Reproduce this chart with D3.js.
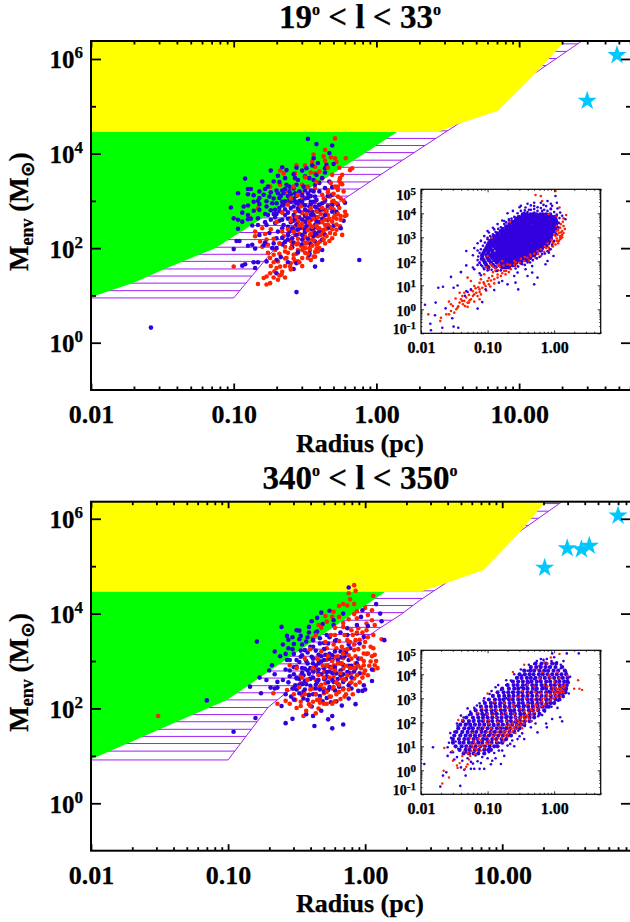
<!DOCTYPE html>
<html>
<head>
<meta charset="utf-8">
<script src="https://cdn.jsdelivr.net/npm/d3@7"></script>
<style>
  html, body { margin: 0; padding: 0; background: #fff; }
  svg { display: block; font-family: "Liberation Serif", serif; font-weight: bold; }
  svg text { stroke: #000; stroke-width: .25; }
</style>
</head>
<body>
<svg id="chart" width="630" height="922"></svg>
<script>
// scatter points are [log10 radius, log10 mass]
const topMainRed = [[-.29,4.32],[-.44,3.98],[-.37,3.94],[-.36,4.08],[-.29,3.90],[-.215,3.90],[-.28,3.82],[-.45,3.83],[-.43,3.72],[-.50,3.75],[-.56,3.75],[-.675,3.64],[-.57,3.58],[-.65,3.58],[-.43,3.58],[-.38,3.48],[-.31,3.55],[-.255,3.48],[-.17,3.69],[-.185,3.65],[-.25,3.37],[-.27,3.30],[-.745,3.30],[-.675,3.34],[-.52,3.34],[-.48,3.30],[-.43,3.27],[-.34,3.23],[-.27,3.23],[-.23,3.20],[-.64,3.20],[-.605,3.13],[-.52,3.16],[-.48,3.16],[-.38,3.13],[-.325,3.09],[-.27,3.09],[-.83,2.84],[-.57,2.98],[-.52,3.06],[-.43,2.98],[-.36,3.02],[-.31,2.98],[-.22,2.77],[-.21,2.70],[-.25,2.68],[-.22,2.68],[-.885,2.63],[-.57,2.77],[-.52,2.74],[-.45,2.70],[-.41,2.77],[-.36,2.81],[-.29,2.70],[-.605,2.63],[-.55,2.56],[-.49,2.60],[-.43,2.63],[-.37,2.63],[-.31,2.56],[-.255,2.46],[-.85,2.35],[-.57,2.46],[-.52,2.42],[-.465,2.49],[-.41,2.42],[-.36,2.49],[-.28,2.39],[-.85,2.25],[-.77,2.18],[-.815,2.14],[-.76,2.07],[-.57,2.28],[-.51,2.21],[-.465,2.28],[-.41,2.25],[-.325,2.32],[-.24,2.28],[-.65,2.25],[-.31,2.21],[-.80,2.03],[-.64,2.03],[-.59,2.07],[-.55,2.10],[-.49,2.10],[-.42,2.07],[-.36,2.10],[-.71,1.96],[-.72,1.86],[-.64,1.93],[-.58,1.86],[-.52,1.96],[-.465,1.96],[-.41,1.93],[-.745,1.79],[-.69,1.72],[-.63,1.79],[-.57,1.72],[-.52,1.79],[-.48,1.79],[-.675,1.61],[-.605,1.61],[-.745,1.47],[-.77,1.40],[-.665,1.44],[-.715,1.51],[-.79,1.37],[-.69,1.33],[-.745,1.26],[-.77,1.23],[-.83,1.24],[-1.00,1.61],[-.43,1.82],[-.55,1.72],[-.50,2.35],[-.45,2.18],[-.55,1.96],[-.395,2.14],[-.54,2.30],[-.50,2.25],[-.44,2.35],[-.38,2.38],[-.33,2.45],[-.47,2.12],[-.53,2.05],[-.47,2.00],[-.42,1.98],[-.60,2.15],[-.56,1.88],[-.50,1.90],[-.46,2.60],[-.40,2.55],[-.34,2.70],[-.28,2.62],[-.40,2.90],[-.34,2.90],[-.30,2.82],[-.46,1.75],[-.60,1.68],[-.64,1.78],[-.68,1.88],[-.37,2.32]];
// red points that lie over the blue ones in the picture
const topMainRedOver = [[-.62,2.40],[-.60,2.58],[-.58,2.35],[-.56,2.66],[-.55,2.20],[-.54,2.48],[-.53,2.88],[-.52,2.52],[-.51,2.02],[-.50,2.12],[-.49,2.72],[-.48,2.38],[-.47,2.56],[-.46,2.30],[-.46,2.84],[-.45,2.05],[-.45,2.45],[-.44,2.16],[-.44,2.62],[-.43,1.92],[-.42,2.48],[-.42,2.78],[-.41,2.10],[-.41,2.65],[-.40,2.00],[-.40,2.42],[-.39,2.28],[-.39,2.72],[-.38,2.55],[-.38,2.85],[-.37,2.18],[-.37,3.05],[-.36,2.40],[-.36,2.60],[-.35,2.25],[-.35,2.78],[-.34,2.50],[-.34,3.18],[-.33,2.15],[-.33,2.62],[-.32,2.85],[-.32,3.38],[-.31,2.40],[-.30,2.65],[-.30,3.00],[-.29,2.30],[-.29,3.30],[-.28,2.50],[-.28,2.95],[-.27,2.72],[-.26,2.85],[-.26,3.42],[-.25,2.60],[-.25,3.05],[-.24,3.55],[-.23,3.00],[-.68,2.10],[-.66,2.35],[-.64,1.62],[-.62,1.90],[-.60,2.00],[-.58,1.78],[-.56,2.08],[-.54,1.70],[-.52,1.62],[-.50,2.00],[-.48,1.88],[-.44,1.82],[-.60,1.55],[-.66,1.50],[-.72,1.70],[-.70,1.58],[-.74,1.62],[-.76,1.90],[-.68,1.42],[-.64,1.38],[-.72,1.38],[-.58,3.30],[-.55,3.12],[-.50,3.50],[-.46,3.60],[-.42,3.40],[-.40,3.62],[-.36,3.85],[-.34,3.70],[-.32,3.92],[-.26,3.70],[-.24,3.35],[-.30,3.15],[-.62,2.92],[-.60,3.05],[-.66,2.75],[-.70,2.55],[-.74,2.40],[-.78,2.30],[-.72,2.20],[-.80,2.42]];
const topMainBlue = [[-.48,4.31],[-.42,4.20],[-.31,4.17],[-.33,4.01],[-.44,3.90],[-.41,3.80],[-.30,3.78],[-.35,3.76],[-.36,3.69],[-.66,3.71],[-.74,3.64],[-.63,3.65],[-.49,3.69],[-.52,3.64],[-.69,3.53],[-.92,3.47],[-.80,3.41],[-.72,3.41],[-.57,3.48],[-.55,3.44],[-.47,3.48],[-.44,3.44],[-.38,3.48],[-.33,3.41],[-.88,3.25],[-.90,3.25],[-.97,3.16],[-.90,3.14],[-.78,3.25],[-.76,3.30],[-.63,3.34],[-.61,3.30],[-.56,3.34],[-.51,3.30],[-.43,3.34],[-.36,3.27],[-.31,3.29],[-.79,3.13],[-.82,3.06],[-.83,3.00],[-.75,3.09],[-.69,3.16],[-.65,3.16],[-.61,3.20],[-.57,3.16],[-.48,3.06],[-.43,3.09],[-.31,3.13],[-.22,2.96],[-.77,2.99],[-.73,2.95],[-.68,3.06],[-.64,2.99],[-.61,3.02],[-.57,2.99],[-.51,2.91],[-.47,2.88],[-.43,2.88],[-.38,2.95],[-.31,2.91],[-.27,2.91],[-1.02,2.86],[-.93,2.88],[-.86,2.79],[-.82,2.81],[-.77,2.88],[-.71,2.81],[-.65,2.91],[-.55,2.84],[-.50,2.81],[-.45,2.77],[-.31,2.77],[-.28,2.77],[-1.00,2.63],[-.97,2.60],[-.94,2.56],[-.90,2.70],[-.90,2.61],[-.83,2.63],[-.76,2.70],[-.71,2.65],[-.64,2.70],[-.57,2.63],[-.52,2.60],[-.48,2.63],[-.42,2.56],[-.34,2.60],[-.23,2.58],[-.97,2.41],[-.87,2.48],[-.83,2.49],[-.77,2.49],[-.71,2.53],[-.65,2.49],[-.59,2.42],[-.55,2.39],[-.49,2.46],[-.43,2.49],[-.34,2.42],[-.30,2.47],[-.82,2.28],[-.75,2.32],[-.69,2.35],[-.61,2.35],[-.52,2.28],[-.43,2.32],[-.36,2.28],[-.25,2.42],[-.98,2.15],[-.96,2.15],[-.70,2.21],[-.64,2.13],[-.59,2.21],[-.43,2.14],[-.38,2.18],[-.90,2.05],[-.87,2.07],[-.79,2.06],[-.73,2.00],[-.70,2.00],[-.59,2.02],[-.55,1.91],[-.47,1.89],[-.38,1.96],[-1.00,1.98],[-.85,1.99],[-.70,1.75],[-.77,1.72],[-.67,1.81],[-.47,1.86],[-.38,1.75],[-.86,1.70],[-.83,1.70],[-.92,1.66],[-.94,1.63],[-.85,1.58],[-.62,1.70],[-.56,1.68],[-.43,1.61],[-.58,1.56],[-.12,1.75],[-.56,1.07],[-.70,1.47],[-.62,3.10],[-.58,3.05],[-.54,3.00],[-.50,3.05],[-.46,2.98],[-.42,3.02],[-.60,2.85],[-.54,2.78],[-.44,2.70],[-.40,2.80],[-.36,2.70],[-.62,2.75],[-.58,2.70],[-.68,2.85],[-.72,2.72],[-.50,2.68],[-.46,2.60],[-.60,2.55],[-.56,2.50],[-.66,2.60],[-.44,2.42],[-.40,2.35],[-.50,2.40],[-.62,2.28],[-.56,2.28],[-.48,2.20],[-.66,2.22],[-.58,2.12],[-.52,2.08],[-.44,2.25],[-.66,3.22],[-.72,3.05],[-.40,3.20],[-.46,3.22],[-.34,3.10],[-.66,2.98],[-1.58,.32],
[-.74,3.18],[-.70,3.22],[-.67,3.10],[-.64,3.25],[-.60,3.14],[-.58,3.26],[-.56,3.10],[-.54,3.20],[-.52,3.12],[-.50,3.22],[-.48,3.15],[-.46,3.10],[-.44,3.20],[-.70,2.95],[-.68,2.78],[-.66,2.90],[-.64,2.82],[-.62,2.95],[-.60,2.98],[-.58,2.88],[-.56,2.95],[-.54,2.90],[-.52,2.98],[-.50,2.90],[-.48,2.78],[-.46,2.92],[-.44,2.98],[-.42,2.85],[-.40,2.92],[-.38,2.82],[-.36,3.00],[-.34,2.88],[-.82,2.93],[-.78,2.72],[-.74,2.80],[-.74,2.60],[-.70,2.72],[-.68,2.58],[-.62,2.62],[-.58,2.58],[-.54,2.65],[-.50,2.55],[-.46,2.70],[-.42,2.65],[-.38,2.62],[-.66,2.42],[-.62,2.45],[-.58,2.38],[-.54,2.42],[-.50,2.34],[-.46,2.40],[-.78,2.12],[-.72,2.10],[-.66,2.08],[-.62,2.18],[-.52,2.18],[-.46,2.08],[-.42,2.30],[-.40,2.55],[-.86,3.12],[-.82,3.20],[-.86,2.98],[-.90,2.90],[-.94,2.75],[-.88,2.62],[-.78,2.55],[-.42,3.55],[-.50,3.52],[-.58,3.56],[-.64,3.48],[-.68,3.40],[-.36,3.60],[-.40,3.38],[-.56,3.70],[-.45,3.75]];

const bottomMainRed = [[-.08,4.60],[-.07,4.48],[-.12,4.43],[.06,4.37],[-.11,4.30],[-.08,4.20],[-.13,4.17],[-.19,4.16],[-.23,4.04],[-.28,3.83],[-.34,3.76],[-.24,3.93],[-.19,3.93],[-.12,3.88],[-.08,3.99],[0,4.12],[.05,4.07],[.02,3.97],[.05,3.86],[.07,3.76],[.01,3.79],[-.06,3.90],[-.16,3.72],[-.10,3.65],[-.05,3.69],[.01,3.65],[.06,3.55],[.12,3.46],[-.38,3.48],[-.22,3.55],[-.13,3.44],[-.07,3.44],[-.01,3.30],[.06,3.27],[.07,3.13],[.02,3.16],[.04,2.99],[-.28,3.27],[-.21,3.27],[-.15,3.23],[-.08,3.23],[-.01,3.16],[-.55,2.91],[-.34,3.02],[-.28,3.02],[-.22,3.09],[-.16,3.06],[-.07,2.95],[-.01,2.91],[.06,2.81],[.07,2.91],[-.36,2.81],[-.30,2.77],[-.23,2.91],[-.16,2.84],[-.10,2.74],[-.01,2.74],[-.47,2.70],[-.36,2.60],[-.29,2.53],[-.23,2.67],[-.17,2.63],[-.08,2.63],[-.38,2.42],[-.30,2.42],[-.24,2.42],[-.19,2.35],[-.11,2.53],[-.67,2.32],[-.57,2.39],[-.47,2.53],[-.33,2.46],[-.41,2.29],[-.46,2.28],[-.51,2.18],[-.47,2.14],[-.30,2.32],[-.64,2.10],[-.58,2.16],[-.41,2.09],[-.47,2.05],[-.38,2.14],[-.50,2.01],[-.34,2.00],[-.45,1.84],[-.35,2.18],[-.17,2.70],[-1.51,1.84]];
const bottomMainRedOver = [[-.42,2.60],[-.40,2.40],[-.38,2.85],[-.36,2.30],[-.35,3.05],[-.34,2.70],[-.33,2.20],[-.32,3.20],[-.32,2.50],[-.31,2.90],[-.30,2.10],[-.30,2.65],[-.29,3.40],[-.28,2.35],[-.28,2.90],[-.27,3.10],[-.26,2.25],[-.26,2.65],[-.25,3.55],[-.25,2.85],[-.24,2.10],[-.24,3.00],[-.23,2.45],[-.23,3.35],[-.22,2.80],[-.22,3.70],[-.21,2.30],[-.21,2.55],[-.20,3.10],[-.20,2.95],[-.19,2.50],[-.19,3.42],[-.18,2.20],[-.18,2.75],[-.17,3.30],[-.17,2.95],[-.16,2.40],[-.16,3.15],[-.15,2.60],[-.15,3.55],[-.14,2.30],[-.14,2.90],[-.13,3.25],[-.13,2.70],[-.12,2.40],[-.12,3.12],[-.11,2.85],[-.11,3.40],[-.10,2.55],[-.10,3.05],[-.09,3.55],[-.09,2.30],[-.08,2.85],[-.08,3.35],[-.07,2.50],[-.07,3.10],[-.06,2.70],[-.06,3.60],[-.05,2.90],[-.05,3.25],[-.04,2.55],[-.04,3.45],[-.03,2.85],[-.03,3.05],[-.02,2.65],[-.02,3.60],[-.01,3.00],[0,2.80],[0,3.40],[.01,3.15],[.02,2.70],[.02,3.50],[.03,2.90],[.04,3.30],[.05,3.10],[.08,3.00],[.09,2.85],[-.44,2.30],[-.48,2.45],[-.52,2.30],[-.55,2.10],[-.43,1.95],[-.40,2.05],[-.36,1.90],[-.33,2.12],[-.28,2.10],[-.25,2.25],[-.22,2.15],[-.15,2.25],[-.46,2.65],[-.50,2.85],[-.44,3.05],[-.40,3.25],[-.36,3.55],[-.32,3.70],[-.16,3.80],[-.06,4.05],[-.16,4.20],[-.29,3.95]];
const bottomMainBlue = [[-.12,4.55],[-.26,4.06],[-.32,4.02],[-.39,3.84],[-.35,3.91],[-.31,3.78],[-.41,3.72],[-.61,3.72],[-.50,3.65],[-.48,3.64],[-.57,3.53],[-.53,3.50],[-.47,3.53],[-.41,3.60],[-.35,3.62],[-.79,3.41],[-.48,3.46],[-.52,3.36],[-.56,3.27],[-.53,3.25],[-.43,3.41],[-.38,3.44],[-.33,3.48],[-.28,3.55],[-.23,3.86],[-.16,4.00],[-.23,3.76],[-.13,3.69],[-.06,3.76],[-.02,4.07],[.08,4.20],[.11,4.00],[.12,3.84],[-.03,3.93],[.02,3.74],[.14,3.44],[-.47,3.22],[-.44,3.23],[-.40,3.30],[-.33,3.37],[-.27,3.37],[-.21,3.44],[-.13,3.55],[-.06,3.58],[-.01,3.51],[-.47,3.09],[-.57,3.02],[-.50,3.02],[-.39,3.09],[-.34,3.13],[-.29,3.13],[-.24,3.02],[-.18,3.20],[-.11,3.27],[-.04,3.37],[-.68,2.91],[-.52,2.87],[-.58,2.82],[-.50,2.88],[-.44,2.84],[-.38,2.95],[-.32,2.99],[-.26,2.88],[-.18,2.95],[-.12,3.02],[-.05,3.05],[-.55,2.68],[-.41,2.73],[-.77,2.65],[-.72,2.60],[-.64,2.56],[-.50,2.65],[-.45,2.70],[-.34,2.74],[-.28,2.77],[-.21,2.74],[-.13,2.77],[-.07,2.84],[.05,2.82],[-.84,2.46],[-.69,2.44],[-.66,2.42],[-.64,2.44],[-.50,2.63],[-.46,2.51],[-.43,2.51],[-.51,2.49],[-.35,2.56],[-.29,2.63],[-.23,2.56],[-.16,2.56],[-.04,2.74],[.05,2.58],[-.76,2.32],[-.52,2.42],[-.45,2.35],[-.36,2.42],[-.27,2.39],[-.19,2.46],[-.12,2.49],[-.05,2.37],[-.02,2.37],[0,2.40],[-.01,2.49],[-.52,2.19],[-.48,2.32],[-.33,2.26],[-.31,2.15],[-.25,2.13],[-.21,2.15],[-.17,2.06],[-.12,2.21],[-.07,2.09],[-.61,2.05],[-.39,2.04],[-.43,1.88],[-.32,1.95],[-.38,1.84],[-.80,1.80],[-.53,1.78],[-.58,1.69],[-.37,1.63],[-.27,1.77],[-.24,1.84],[-.24,1.58],[-.16,1.66],[-.96,1.51],[-.45,2.21],[-.41,2.28],[-1.155,2.17],[-.30,3.25],[-.26,3.15],[-.22,3.20],[-.15,3.10],[-.36,2.90],[-.30,2.85],[-.24,2.75],[-.18,2.80],[-.10,2.90],[-.34,2.60],[-.27,2.55],[-.20,2.62],[-.10,2.65],[-.42,2.95],[-.46,2.85],[-.38,2.65],[-.33,2.40],
[-.62,3.10],[-.58,3.15],[-.55,3.02],[-.52,3.15],[-.48,2.98],[-.46,3.12],[-.43,3.00],[-.42,3.18],[-.40,2.85],[-.38,3.05],[-.36,3.22],[-.34,2.95],[-.32,3.10],[-.30,3.02],[-.28,2.90],[-.26,3.05],[-.24,3.12],[-.22,2.88],[-.20,3.02],[-.18,3.08],[-.16,2.92],[-.14,3.18],[-.12,2.90],[-.55,2.80],[-.52,2.72],[-.48,2.62],[-.46,2.75],[-.44,2.58],[-.42,2.80],[-.40,2.62],[-.38,2.78],[-.36,2.50],[-.34,2.82],[-.32,2.72],[-.30,2.62],[-.28,2.68],[-.26,2.78],[-.24,2.60],[-.22,2.82],[-.20,2.52],[-.18,2.70],[-.16,2.72],[-.14,2.62],[-.12,2.75],[-.08,2.78],[-.06,2.95],[-.60,2.60],[-.56,2.55],[-.53,2.42],[-.48,2.50],[-.44,2.40],[-.40,2.48],[-.36,2.30],[-.30,2.35],[-.26,2.45],[-.22,2.38],[-.16,2.42],[-.10,2.42],[-.58,2.30],[-.54,2.25],[-.50,2.40],[-.42,2.18],[-.38,2.30],[-.28,2.22],[-.46,3.35],[-.42,3.50],[-.38,3.30],[-.36,3.60],[-.30,3.38],[-.26,3.50],[-.22,3.42],[-.18,3.60],[-.12,3.35],[-.60,3.35],[-.56,3.45],[-.66,3.20],[-.70,2.80],[-.66,2.72]];

// stars
const topStarsR = [48.5, 30];
const topStarsM = [1200000, 130000];
const bottomStarsR = [70, 20.4, 29.8, 37.8, 43.2];
const bottomStarsM = [1160000, 92500, 237000, 226000, 269000];

// shaded regions, as radius / mass vertices
const topHatchR = [.01, .1, .185, .236, .513, 1.53, 3.73, 13.6, 27.5];
const topHatchM = [8.85, 8.85, 83, 164, 820, 7300, 42300, 557000, 2400000];
const topYellowR = [.01, 21, 13.3, 7.1, 3.73, 2.7, .01];
const topYellowM = [2400000, 2400000, 531000, 80000, 42300, 28600, 28600];
const topGreenR = [.01, 1.39, .83, .074, .034, .0197, .01];
const topGreenM = [28600, 28600, 10200, 100, 38, 18.4, 9.3];
const bottomHatchR = [.01, .1, .196, .252, 1.245, 1.8, 2.52, 3.84, 13.9, 27.3];
const bottomHatchM = [8.2, 8.2, 106, 190, 4710, 9300, 19300, 43300, 578000, 2290000];
const bottomYellowR = [.01, 20.6, 13.9, 7.3, 3.84, 2.52, .01];
const bottomYellowM = [2290000, 2290000, 578000, 82800, 43300, 28800, 28800];
const bottomGreenR = [.01, 1.4, .098, .0447, .0186, .01];
const bottomGreenM = [28800, 28800, 150, 56.6, 18.5, 8.5];
const hatchLevels = [1.10,1.26,1.41,1.56,1.72,1.87,2.02,2.18,2.33,2.48,2.64,2.79,2.94,3.10,3.25,3.40,3.56,3.71,3.86,4.02,4.17,4.32,4.48,4.63,4.78,4.94,5.09,5.24,5.40,5.55,5.70,5.86,6.01,6.16,6.32];

// inset tails and fringes
const topInsetRed = [[-1.89,-.21],[-1.71,-.49],[-1.70,-.35],[-1.62,-.21],[-1.58,-.21],[-1.55,-.07],[-1.50,-.14],[-1.47,0],[-1.45,.07],[-1.52,.14],[-1.42,.28],[-1.37,.21],[-1.35,.35],[-1.30,.28],[-1.25,.42],[-1.40,.42],[-1.32,.49],[-1.22,.56],[-1.12,.83],[-1.17,.69],[-1.10,.62],[-1.03,.97],[-.98,1.04],[-1.20,.97],[-1.25,1.18],[-1.30,1.32],[-1.40,1.55],[-1.55,.21],[-1.58,.32],[-1.42,.69],[-1.35,.69],[-1.00,1.18],[-.93,1.39],[-.85,1.32],[-.80,1.39],[-.73,1.46],[-1.05,1.46],[-.88,1.60],[-.75,1.60],[-.65,1.67],[-.55,1.80],[-.45,2.01],[-.38,2.01],[-.28,2.15],[-.20,2.22],[-.08,2.57],[-.01,2.78],[.04,2.85],[.09,3.05],[.14,3.47],[.09,3.40],[.07,3.19],[.02,3.05],[.18,3.93],[.14,3.79],[.08,4.24],[.04,3.89],[-.08,3.96],[-.18,4.51],[-.28,4.76],[-.20,4.72],[.02,4.93],[-.66,3.64],[-1.10,2.85],[-.94,2.98],[-.83,1.87],[-.95,1.87],[-1.00,2.22],[-.78,2.01],[-.60,2.01],[-.35,2.22],[-.03,2.64],[.09,2.92],[.12,3.26],[.04,3.47],[-1.28,.60],[-1.22,.75],[-1.15,.55],[-1.27,.38],[-1.34,.14],[-1.18,.88],[-1.08,.90],[-1.12,1.10],[-1.05,1.05],[-.95,1.20],[-.90,1.25],[-.85,1.45],[-.78,1.50],[-.72,1.60],[-.68,1.55],[-.92,1.55],[-.84,1.62],[-.60,1.85],[-.52,1.95],[-.40,2.15],[-.32,2.05],[-.24,2.30],[-.15,2.40],[-.12,2.55],[-.05,2.50],[-.02,2.80],[.04,2.95],[.07,2.85],[.05,3.10],[.10,3.20],[.06,3.30],[.12,3.10],[.02,2.70],[.09,3.00],[-1.48,.45],[-1.38,.55],[-1.30,.10],[-1.20,.32],[-1.12,.42],[-1.02,.78],[-.96,.95],[-.90,1.08],[-.98,1.30],[-1.10,1.25],
[-1.02,1.75],[-.98,1.65],[-.92,1.78],[-.88,1.72],[-.82,1.78],[-.76,1.82],[-.70,1.88],[-.66,1.85],[-.58,1.95],[-.50,2.10],[-.44,2.18],[-.36,2.28],[-.30,2.32],[-.25,2.42],[-.20,2.50],[-.14,2.62],[-.10,2.75],[-.04,2.90],[0,3.10],[.03,3.25],[.07,3.40],[.10,3.55],[.13,3.65],[.11,2.98],[.14,3.18],[.16,3.35],[.06,2.75],[.12,3.00],[-.08,2.45],[-.02,2.62],[-1.25,.80],[-1.20,.62],[-1.12,.72],[-1.28,.28],[-1.38,.35],[-1.44,.12],[-1.14,.92],[-1.06,1.12]];
const topInsetBlueFringe = [[-1.94,.19],[-1.86,-.60],[-1.79,-.25],[-1.85,-.87],[-1.68,-.77],[-1.51,-.72],[-1.44,-.77],[-1.74,.90],[-1.67,.94],[-1.78,.28],[-1.55,1.35],[-1.51,.90],[-1.32,2.43],[-1.32,1.83],[-1.40,1.55],[-1.45,.99],[-1.22,1.74],[-1.08,.30],[-1.15,.03],[-1.63,.04],[-1.53,-.37],[-1.34,.56],[-1.30,.72],[-1.25,.83],[-1.32,.76],[-1.10,1.42],[-1.12,1.50],[-1.05,1.67],[-.90,.80],[-1.03,.83],[-.83,1.11],[-.70,1.04],[-.58,1.11],[-.54,.83],[-.30,1.04],[-.40,1.39],[-.25,1.32],[-.13,1.88],[-.10,2.01],[-.01,2.22],[-.08,2.36],[-.33,1.80],[-.43,1.67],[-.55,1.53],[-.33,1.53],[-.60,1.39],[-.78,1.18],[-1.10,2.08],[-1.08,2.29],[-1.12,1.94],[-1.20,1.67],[-1.08,1.80],[-1.10,2.85],[-1.00,2.98],[-1.00,3.26],[-.90,3.33],[-.85,3.19],[-.75,3.68],[-.68,3.75],[-.58,3.82],[-.50,4.31],[-.43,4.24],[-.35,4.33],[-.30,4.44],[-.20,4.44],[-.10,4.51],[.02,4.72],[-.03,4.31],[.04,4.44],[.09,4.03],[-.05,4.17],[-.18,4.10],[-.30,4.03],[.17,3.75],[-.38,4.15],[-.25,4.25],[-.12,4.30],[-.45,4.02],[-.62,3.60],[-.72,3.40],[-.98,2.60],[-1.15,2.45],
[-.55,4.0],[-.50,4.1],[-.44,4.12],[-.40,4.05],[-.35,4.15],[-.30,4.18],[-.25,4.10],[-.20,4.22],[-.15,4.15],[-.10,4.10],[-.05,4.20],[0,4.05],[.04,3.95],[-.60,3.85],[-.64,3.78],[-.68,3.70],[-.72,3.62],[-.75,3.55],[-.80,3.42],[-.84,3.35],[-.88,3.22],[-.92,3.12],[-.96,3.05],[-1.00,2.92],[-1.04,2.78],[-1.07,2.65],[-1.10,2.50],[-1.12,2.35],[-1.14,2.20],[-1.15,2.05],[-1.12,1.95],[-1.10,1.85],[-1.06,1.72],[-1.00,1.62],[-.94,1.65],[-.86,1.60],[-.80,1.62],[-.74,1.72],[-.68,1.75],[-.62,1.80],[-.58,1.70],[-.54,1.78],[-.48,1.88],[-.44,1.85],[-.40,1.95],[-.36,1.95],[-.32,2.05],[-.26,2.12],[-.22,2.18],[-.18,2.30],[-.14,2.32],[-.10,2.42],[-.06,2.50],[-.03,2.70],[0,2.85],[.03,3.15],[.06,3.42],[.07,3.60],[.08,3.80],[-.78,3.70],[-.85,3.55],[-.92,3.40],[-.98,3.20],[-1.05,3.05],[-1.15,2.75],[-1.20,2.55],[-1.22,2.25],[-1.15,1.85],[-.70,4.00],[-.62,4.10],[-.52,4.25],[-.40,4.40],[-.30,4.30],[-.16,4.35],[-.05,4.40],[.05,4.20],[.12,3.90]];
const bottomInsetRed = [[-1.68,-.55],[-1.66,-.02],[-1.58,-.30],[-1.65,.93],[-1.53,.80],[-1.52,.40],[-1.46,.20],[-1.42,.30],[-1.38,.60],[-1.45,.10],[-1.34,.05],[-1.32,.15],[-1.30,.25],[-1.28,.45],[-1.36,.78],[-1.30,.95],[-1.29,.72],[-1.26,.60],[-1.24,.80],[-1.22,.95],[-1.19,.68],[-1.16,.85],[-1.12,1.00],[-1.18,1.10],[-1.10,.82],[-1.08,1.05],[-1.02,1.15],[-1.05,.95],[-.98,1.25],[-.95,1.10],[-.90,1.30],[-.92,1.42],[-.86,1.20],[-.84,1.35],[-.80,1.50],[-.78,1.35],[-.76,1.55],[-.74,1.45],[-.72,1.62],[-.70,1.50],[-.68,1.70],[-.66,1.58],[-.64,1.75],[-.62,1.65],[-.60,1.80],[-.58,1.72],[-.56,1.90],[-.54,1.80],[-.52,2.00],[-.50,1.88],[-.48,2.05],[-.46,1.95],[-.44,2.15],[-.42,2.05],[-.40,2.25],[-.38,2.15],[-.34,2.30],[-.30,2.42],[-.26,2.50],[-.22,2.60],[-.18,2.68],[-.14,2.75],[-.10,2.85],[-.05,2.95],[0,3.00],[.03,3.10],[.06,3.20],[.08,3.30],[.05,3.05],[.10,3.40],[.02,3.25],[.07,3.42],[.12,3.50],[.14,3.25],[.10,3.10],[.04,3.38],[0,3.18],[.16,3.55],[.20,3.95],[.30,3.40],[.38,3.40],[.36,3.75],[.42,3.35],[-.98,1.95],[-1.08,2.60],[-1.22,1.55],[-1.44,2.10],[-1.38,2.10],[-1.15,2.40],[-.88,2.20],[-.95,2.55],[-.78,2.30],[-.70,2.60],[-.62,2.75],[-.55,3.05],[-.48,3.30],[-.38,3.20],[-.30,3.50],[-.22,3.85],[-.18,4.10],[-.25,4.20],[-.10,4.45],[-.45,4.40],[-.62,4.10],[-.05,4.70],[.08,4.85],[-.15,4.50],[-.82,1.85],[-.85,1.60],[-1.00,1.60],[-1.12,1.70],[-1.26,1.35],[-1.20,1.20],[-1.05,2.10],[-.90,2.85],[-1.00,3.20],[-.72,2.05],[-.60,2.35],[-.50,2.55],[-.40,2.75],[-.30,2.95],[-.20,3.20],[-.10,3.50],[0,3.70],[.08,3.85],[.05,4.10],[-.08,3.95],[-.28,2.75],[-.18,3.00],[-.35,2.55],[-.45,2.45],[-.58,2.20],[-.68,1.90],[-.95,1.75],[-1.10,1.45],[-1.00,2.35],[-.80,2.60],[-.65,3.00],[-.52,3.10],[-.40,3.55],[-.28,3.25],[-.12,3.20],[-.02,3.45],[.06,3.60],
[-1.10,1.25],[-1.02,1.40],[-.94,1.60],[-.88,1.48],[-.82,1.70],[-.76,1.62],[-.72,1.85],[-.66,1.85],[-.62,1.95],[-.58,2.05],[-.54,2.10],[-.50,2.20],[-.46,2.25],[-.42,2.30],[-.38,2.40],[-.34,2.50],[-.30,2.60],[-.26,2.70],[-.22,2.80],[-.18,2.88],[-.14,3.00],[-.10,3.10],[-.06,3.15],[-.02,3.30],[.02,3.45],[.10,3.25],[.12,3.35],[.15,3.45],[-1.30,.70],[-1.24,1.05],[-1.18,.90],[-1.14,1.30],[-1.05,1.80],[-.98,2.10],[-.86,2.50],[-.75,2.80],[-.70,1.40],[-.58,1.55],[-.48,1.75],[-.34,2.05],[-.25,3.05],[-.15,3.55],[-.05,3.85],[-.42,3.00],[-.60,2.65],[-.72,2.40],[-.85,2.00],[-.92,2.30],[-1.00,1.10],[-.76,1.20]];
const bottomInsetBlueFringe = [[-1.95,.26],[-1.82,.96],[-1.71,-.68],[-1.67,-.22],[-1.62,-.08],[-1.41,-.65],[-1.33,-.22],[-1.60,.60],[-1.55,.75],[-1.50,.45],[-1.46,.55],[-1.40,.12],[-1.35,.02],[-.03,4.87],[.19,4.87],[.37,4.87],[0,4.71],[-.11,4.64],[-.20,4.64],[-.30,4.43],[-.40,4.15],[-.55,3.87],[-.65,3.74],[-.88,3.46],[-.97,3.18],[-1.12,2.79],[-1.30,2.58],[-1.40,2.28],[-1.52,1.24],[-1.60,.96],[.09,2.21],[.12,2.04],[-.03,2.14],[-.11,1.79],[-.25,1.58],[-.35,1.79],[-.48,1.54],[-.55,1.30],[-.63,1.24],[-.70,1.03],[-.83,.82],[-.80,.26],[-.93,.40],[-1.05,.06],[-1.12,.06],[-1.20,.06],[-1.25,.06],[-1.00,.50],[-1.15,.38],[-.90,.72],[-.75,.60],[-.60,1.00],[-.45,1.30],[-.18,2.30],[-.12,1.95],[-.28,1.95],[-1.25,.35],[-1.30,.50],[.05,2.60],[.22,3.20],[.14,4.55],[.10,4.25],[.04,4.50],[-.08,4.30],[-.22,4.35],[-.35,4.25],[-.48,3.95],[-.72,3.55],[-.80,3.35],[-1.05,3.00],[-1.20,2.60],[-1.28,2.30],[-1.45,1.85],[-1.50,1.60],[-1.55,1.35],
[-1.30,1.55],[-1.25,1.85],[-1.18,1.40],[-1.10,1.65],[-1.05,1.30],[-1.00,2.00],[-.96,1.50],[-.90,1.85],[-.85,2.35],[-.82,2.05],[-.76,1.75],[-.70,2.25],[-.64,2.45],[-.60,2.00],[-.56,2.70],[-.50,2.30],[-.44,2.70],[-.42,3.00],[-.36,2.45],[-.32,2.85],[-.28,3.30],[-.24,2.70],[-.20,3.05],[-.16,3.45],[-.12,2.85],[-.08,3.30],[-.04,3.00],[0,3.55],[.04,3.28],[.08,3.72],[.12,3.40],[-.15,3.85],[-.10,4.15],[-.30,3.80],[-.38,3.65],[-.50,3.45],[-.60,3.25],[-.72,3.00],[-.82,2.75],[-.94,2.40],[-1.05,2.30],[-1.20,2.10],[-1.30,1.95],[-1.40,1.50],[-1.48,1.20],[-1.44,.90],[-1.32,.75],[-1.18,.62],[-1.08,.55],[-.98,.75],[-.90,1.00],[-.82,1.15],[-.74,1.25],[-.64,1.45],[-.54,1.65],[-.44,1.85],[-.34,2.05],[-.24,2.25],[-.14,2.45],[-.04,2.65],[.06,2.90],[.14,3.05],[.18,3.35],[.22,3.65],[.24,3.90],[.18,4.10],[.10,4.40],[-.04,4.55],[-.16,4.60],[-.26,4.55],[-.38,4.40],[-.50,4.20],[-.60,4.00],[-.72,3.75],[-.84,3.55],[-.94,3.30],[-1.06,2.90],[-1.16,2.70],[-1.26,2.45],[-1.36,2.20],[-1.46,1.95],[-1.56,1.55],[-1.58,1.15],[-1.52,.75],[-1.38,.40],[-1.22,.28],[-1.10,.30],[-.95,.25],[-.88,.50],[-.78,.82],[-.66,1.10],[-.52,1.42]];

// saturated core of each inset: [log10 mass, log10 radius, log10 radius, ...]
const topInsetCore = [
  [3.95,-.47,-.42,-.36,-.32,-.27,-.21,-.17,-.12,-.06],
  [3.85,-.53,-.48,-.44,-.39,-.34,-.29,-.24,-.19,-.14,-.09,-.04,.01],
  [3.75,-.57,-.51,-.47,-.41,-.37,-.32,-.27,-.21,-.17,-.12,-.06,-.02,.02],
  [3.65,-.63,-.59,-.54,-.49,-.44,-.39,-.34,-.29,-.24,-.19,-.14,-.09,-.04,.01,.03],
  [3.55,-.67,-.61,-.57,-.52,-.47,-.42,-.37,-.31,-.27,-.22,-.17,-.12,-.06,-.02,.03],
  [3.45,-.72,-.67,-.62,-.57,-.52,-.47,-.42,-.37,-.32,-.27,-.22,-.17,-.12,-.07,-.02,.02],
  [3.35,-.77,-.71,-.66,-.61,-.56,-.51,-.46,-.41,-.36,-.31,-.26,-.21,-.16,-.11,-.06,-.01,.02],
  [3.25,-.80,-.76,-.70,-.65,-.60,-.55,-.50,-.45,-.40,-.35,-.30,-.25,-.20,-.15,-.10,-.05,0],
  [3.15,-.85,-.79,-.74,-.69,-.64,-.59,-.54,-.49,-.44,-.39,-.34,-.29,-.24,-.19,-.14,-.09,-.04],
  [3.05,-.90,-.85,-.80,-.75,-.70,-.65,-.60,-.55,-.50,-.45,-.40,-.35,-.30,-.25,-.20,-.15,-.10,-.05],
  [2.95,-.93,-.87,-.83,-.78,-.73,-.68,-.63,-.58,-.53,-.48,-.43,-.38,-.33,-.28,-.23,-.18,-.13,-.08,-.05],
  [2.85,-.96,-.90,-.85,-.80,-.75,-.70,-.65,-.60,-.55,-.50,-.45,-.40,-.35,-.30,-.25,-.20,-.15,-.10,-.07],
  [2.75,-.98,-.94,-.88,-.83,-.78,-.73,-.68,-.63,-.58,-.53,-.48,-.43,-.38,-.33,-.28,-.23,-.18,-.13,-.09],
  [2.65,-1.00,-.95,-.91,-.85,-.80,-.75,-.70,-.65,-.60,-.55,-.50,-.45,-.40,-.35,-.30,-.25,-.20,-.15,-.12],
  [2.55,-1.02,-.96,-.88,-.83,-.78,-.73,-.68,-.63,-.58,-.53,-.48,-.43,-.38,-.33,-.28,-.23,-.18],
  [2.45,-1.04,-.98,-.93,-.85,-.80,-.75,-.70,-.65,-.60,-.55,-.50,-.45,-.40,-.35,-.30,-.25,-.20],
  [2.35,-1.06,-.99,-.92,-.86,-.82,-.77,-.72,-.67,-.62,-.57,-.52,-.47,-.42,-.37,-.32,-.27],
  [2.25,-1.08,-1.01,-.95,-.89,-.84,-.78,-.73,-.68,-.63,-.58,-.53,-.48,-.43,-.38,-.33,-.30],
  [2.15,-1.08,-1.00,-.93,-.87,-.81,-.75,-.70,-.65,-.60,-.55,-.50,-.45,-.40,-.36],
  [2.05,-1.06,-.98,-.90,-.84,-.78,-.72,-.67,-.62,-.57,-.52,-.47,-.42],
  [1.95,-1.04,-.95,-.86,-.79,-.73,-.67,-.62,-.57,-.50],
  [1.85,-1.02,-.92,-.82,-.76,-.70,-.64,-.60],
  [1.75,-.99,-.88,-.78,-.72,-.68]
];
const bottomInsetCore = [
  [4.45,-.28,-.19,-.12,-.03,.03],
  [4.30,-.35,-.27,-.20,-.13,-.06,.02,.12],
  [4.15,-.45,-.36,-.30,-.22,-.15,-.09,-.01,.06,.16],
  [4.00,-.52,-.44,-.37,-.31,-.23,-.17,-.10,-.03,.04,.11,.18],
  [3.85,-.56,-.49,-.41,-.35,-.28,-.21,-.14,-.07,0,.07,.13,.20],
  [3.70,-.62,-.54,-.47,-.40,-.34,-.26,-.20,-.12,-.06,.02,.08,.15,.20],
  [3.55,-.70,-.61,-.55,-.47,-.41,-.33,-.27,-.19,-.13,-.05,.01,.08,.14,.19],
  [3.40,-.78,-.68,-.60,-.54,-.46,-.40,-.32,-.26,-.18,-.12,-.04,.02,.09,.15,.18],
  [3.25,-.85,-.76,-.69,-.62,-.54,-.48,-.40,-.34,-.26,-.20,-.12,-.06,.01,.08,.13,.17],
  [3.10,-.92,-.83,-.75,-.68,-.61,-.54,-.47,-.40,-.33,-.26,-.19,-.12,-.05,.02,.08,.13],
  [2.95,-.98,-.89,-.82,-.76,-.68,-.62,-.54,-.48,-.40,-.34,-.26,-.20,-.12,-.06,.02,.08],
  [2.80,-1.04,-.95,-.89,-.81,-.75,-.67,-.61,-.53,-.47,-.39,-.33,-.25,-.19,-.11,-.05,0],
  [2.65,-1.10,-1.02,-.95,-.88,-.81,-.74,-.67,-.60,-.53,-.46,-.39,-.32,-.25,-.18,-.12,-.08],
  [2.50,-1.18,-1.09,-1.02,-.94,-.88,-.80,-.74,-.66,-.60,-.52,-.46,-.38,-.32,-.24,-.15],
  [2.35,-1.25,-1.15,-1.08,-1.01,-.93,-.87,-.79,-.73,-.65,-.59,-.51,-.45,-.37,-.30,-.22],
  [2.20,-1.32,-1.22,-1.14,-1.07,-1.00,-.93,-.86,-.79,-.72,-.65,-.58,-.51,-.44,-.37,-.30],
  [2.05,-1.37,-1.28,-1.21,-1.13,-1.07,-.99,-.93,-.85,-.79,-.71,-.65,-.57,-.51,-.44,-.37],
  [1.90,-1.41,-1.33,-1.26,-1.19,-1.12,-1.05,-.98,-.91,-.84,-.77,-.70,-.63,-.56,-.50,-.45],
  [1.75,-1.44,-1.35,-1.28,-1.22,-1.14,-1.08,-1.00,-.94,-.86,-.80,-.72,-.66,-.58,-.52],
  [1.60,-1.47,-1.38,-1.30,-1.23,-1.17,-1.09,-1.03,-.95,-.89,-.81,-.75,-.67,-.60],
  [1.45,-1.50,-1.41,-1.33,-1.26,-1.19,-1.12,-1.05,-.98,-.91,-.84,-.77,-.70,-.65],
  [1.30,-1.52,-1.43,-1.35,-1.29,-1.21,-1.15,-1.07,-1.01,-.93,-.87,-.79,-.72],
  [1.15,-1.52,-1.42,-1.36,-1.28,-1.22,-1.14,-1.08,-1.00,-.94,-.86,-.78],
  [1.00,-1.48,-1.39,-1.32,-1.25,-1.18,-1.11,-1.04,-.97,-.90,-.85],
  [.85,-1.42,-1.33,-1.27,-1.19,-1.13,-1.05,-.99,-.95],
  [.70,-1.36,-1.28,-1.21,-1.14,-1.05]
];

// ticks
const mainXMajor = [.01, .1, 1, 10];
const mainXMinor = [.02,.03,.04,.05,.06,.07,.08,.09,.2,.3,.4,.5,.6,.7,.8,.9,2,3,4,5,6,7,8,9,20,30,40,50,60,70,80];
const mainYMajor = [1, 100, 10000, 1000000];
const mainYMinor = [10, 1000, 100000];
const insetXMajor = [.01, .1, 1];
const insetXMinor = [.02,.03,.04,.05,.06,.07,.08,.09,.2,.3,.4,.5,.6,.7,.8,.9,2,3,4,5];
const insetYMajor = [.1, 1, 10, 100, 1000, 10000, 100000];
const insetYMinor = [.2,.3,.4,.5,.6,.7,.8,.9,2,3,4,5,6,7,8,9,20,30,40,50,60,70,80,90,200,300,400,500,600,700,800,900,2000,3000,4000,5000,6000,7000,8000,9000,20000,30000,40000,50000,60000,70000,80000,90000];

const RED = '#ff2200';
const BLUE = '#3300dd';
const PURPLE = '#a020f0';
const STAR = '#00c8ff';

const svg = d3.select('#chart');
const fromDex = d => [Math.pow(10, d[0]), Math.pow(10, d[1])];
const zipRM = (rs, ms) => rs.map((r, i) => [r, ms[i]]);
const expandRows = rows => rows.flatMap(row => row.slice(1).map(r => [r, row[0]]));
const exp = { '1': '0', '100': '2', '10000': '4', '1000000': '6', '0.1': '-1', '10': '1', '1000': '3', '100000': '5' };

function drawAxisPair(g, x, y, o) {
  const [x0, x1] = x.range();
  const [y0, y1] = y.range();
  const keepX = vals => vals.filter(v => v >= x.domain()[0] && v <= x.domain()[1]);

  const sets = [
    { vals: keepX(o.xMinor), len: o.xMinorLen },
    { vals: keepX(o.xMajor), len: o.xMajorLen },
  ];
  sets.forEach(s => {
    g.append('g').attr('transform', `translate(0,${y0})`)
      .call(d3.axisBottom(x).tickValues(s.vals).tickSizeInner(-s.len).tickSizeOuter(0).tickFormat(''))
      .call(a => a.select('.domain').remove());
    g.append('g').attr('transform', `translate(0,${y1})`)
      .call(d3.axisTop(x).tickValues(s.vals).tickSizeInner(-s.len).tickSizeOuter(0).tickFormat(''))
      .call(a => a.select('.domain').remove());
  });
  [{ vals: o.yMinor, len: o.yMinorLen }, { vals: o.yMajor, len: o.yMajorLen }].forEach(s => {
    g.append('g').attr('transform', `translate(${x0},0)`)
      .call(d3.axisLeft(y).tickValues(s.vals).tickSizeInner(-s.len).tickSizeOuter(0).tickFormat(''))
      .call(a => a.select('.domain').remove());
    g.append('g').attr('transform', `translate(${x1},0)`)
      .call(d3.axisRight(y).tickValues(s.vals).tickSizeInner(-s.len).tickSizeOuter(0).tickFormat(''))
      .call(a => a.select('.domain').remove());
  });
  g.selectAll('.tick line').attr('stroke', '#000').attr('stroke-width', o.tickWidth);

  // frame
  g.append('rect').attr('x', x0).attr('y', y1).attr('width', x1 - x0).attr('height', y0 - y1)
    .attr('fill', 'none').attr('stroke', '#000').attr('stroke-width', o.frameWidth);

  // labels
  const xl = g.append('g').attr('transform', `translate(0,${y0})`)
    .call(d3.axisBottom(x).tickValues(o.xMajor).tickSize(0).tickPadding(o.xPad).tickFormat(d3.format('.2f')));
  xl.select('.domain').remove();
  xl.selectAll('text').attr('font-size', o.xFont).attr('font-family', 'Liberation Serif').attr('fill', '#000');

  const yl = g.append('g').attr('transform', `translate(${x0},0)`)
    .call(d3.axisLeft(y).tickValues(o.yMajor).tickSize(0).tickPadding(o.yPad).tickFormat(''));
  yl.select('.domain').remove();
  yl.selectAll('text').each(function(d) {
    const t = d3.select(this)
      .attr('font-size', o.yFont).attr('font-family', 'Liberation Serif').attr('fill', '#000')
      .attr('dy', null)
      .attr('y', o.yBase + (o.yShift && o.yShift[d] || 0));
    t.append('tspan').text('10');
    t.append('tspan').attr('dy', o.supDy).attr('font-size', o.supFont).text(exp[String(d)]);
  });
}

function drawDots(g, x, y, pts, color, r) {
  g.append('g').selectAll('circle').data(pts).join('circle')
    .attr('cx', d => x(d[0])).attr('cy', d => y(d[1])).attr('r', r).attr('fill', color);
}

function drawPanel(p) {
  const x = d3.scaleLog().domain([.01, p.xMax]).range([91, 631]);
  const y = d3.scaleLog().domain([.1, p.yMax]).range([p.bottom, p.top]);
  const line = d3.line().x(d => x(d[0])).y(d => y(d[1]));
  const g = svg.append('g');

  // hatch band, clipped to the area above the lower boundary
  const edge = zipRM(p.hatchR, p.hatchM);
  const clipId = 'hatch-' + p.id;
  g.append('clipPath').attr('id', clipId).append('path')
    .attr('d', line(edge.concat([[.01, p.yMax]])) + 'Z');
  g.append('g').attr('clip-path', `url(#${clipId})`)
    .selectAll('line').data(hatchLevels).join('line')
    .attr('x1', x(.01)).attr('x2', x(p.xMax))
    .attr('y1', d => y(Math.pow(10, d))).attr('y2', d => y(Math.pow(10, d)))
    .attr('stroke', PURPLE).attr('stroke-width', 1);
  g.append('path').attr('d', line(edge)).attr('fill', 'none').attr('stroke', PURPLE).attr('stroke-width', 1);

  g.append('path').attr('d', line(zipRM(p.greenR, p.greenM)) + 'Z').attr('fill', '#00ff00');
  g.append('path').attr('d', line(zipRM(p.yellowR, p.yellowM)) + 'Z').attr('fill', '#ffff00');

  drawDots(g, x, y, p.red.map(fromDex), RED, 2.3);
  drawDots(g, x, y, p.blue.map(fromDex), BLUE, 2.3);
  drawDots(g, x, y, p.redOver.map(fromDex), RED, 2.3);

  g.append('g').selectAll('path').data(zipRM(p.starsR, p.starsM)).join('path')
    .attr('d', d3.symbol(d3.symbolStar, 115))
    .attr('transform', d => `translate(${x(d[0])},${y(d[1])})`)
    .attr('fill', STAR);

  drawAxisPair(g, x, y, {
    xMajor: mainXMajor, xMinor: mainXMinor, yMajor: mainYMajor, yMinor: mainYMinor,
    xMajorLen: 6.5, xMinorLen: 3.5, yMajorLen: 10, yMinorLen: 5,
    tickWidth: 1.8, frameWidth: 2,
    xFont: 26, xPad: 14.5, yFont: 25, yPad: 8, yBase: 9, supDy: -10, supFont: 17,
  });

  // title
  const title = g.append('text').attr('x', 360).attr('y', p.top - 13).attr('text-anchor', 'middle')
    .attr('font-size', 33);
  p.title.forEach(part => {
    title.append('tspan').text(part[0]).attr('font-size', part[1] ? 16 : null)
      .attr('dy', part[1] ? -13 : (part[2] ? 13 : null));
  });

  // axis titles
  g.append('text').attr('x', 360).attr('y', p.bottom + 61.5).attr('text-anchor', 'middle')
    .attr('font-size', 26).text('Radius (pc)');
  const yt = g.append('text')
    .attr('transform', `translate(28,${p.top + 230}) rotate(-90)`)
    .attr('font-size', 27);
  yt.append('tspan').text('M');
  yt.append('tspan').attr('font-size', 18).attr('dy', 5).text('env');
  yt.append('tspan').attr('dy', -5).text(' (M');
  yt.append('tspan').attr('font-size', 19).attr('dy', 6).attr('font-family', 'DejaVu Sans').text('\u2299');
  yt.append('tspan').attr('dy', -6).text(')');

  // inset
  const ix = d3.scaleLog().domain([.01, 5]).range([421, 600.7]);
  const iy = d3.scaleLog().domain([.1, 100000]).range([p.insetBottom, p.insetBottom - 144]);
  const ig = svg.append('g');
  const core = expandRows(p.insetCore).map(fromDex);
  if (p.id === 'top') {
    drawDots(ig, ix, iy, core, BLUE, 2.2);
    drawDots(ig, ix, iy, p.insetRed.map(fromDex), RED, 1.3);
    drawDots(ig, ix, iy, p.insetBlue.map(fromDex), BLUE, 1.3);
  } else {
    drawDots(ig, ix, iy, core, BLUE, 2.1);
    drawDots(ig, ix, iy, p.insetBlue.map(fromDex), BLUE, 1.3);
    drawDots(ig, ix, iy, p.insetRed.map(fromDex), RED, 1.2);
  }
  drawAxisPair(ig, ix, iy, {
    xMajor: insetXMajor, xMinor: insetXMinor, yMajor: insetYMajor, yMinor: insetYMinor,
    xMajorLen: 3, xMinorLen: 1.5, yMajorLen: 3, yMinorLen: 1.5,
    tickWidth: .8, frameWidth: 1.2,
    xFont: 16, xPad: 8.6, yFont: 14, yPad: 5, yBase: 6, supDy: -5, supFont: 11,
    yShift: { '100000': 4, '0.1': -6 },
  });
}

drawPanel({
  id: 'top', top: 41, bottom: 390, xMax: 60.8, yMax: 2400000, insetBottom: 333.3,
  title: [['19'], ['o', 1], [' < l < 33', 0, 1], ['o', 1]],
  hatchR: topHatchR, hatchM: topHatchM, yellowR: topYellowR, yellowM: topYellowM, greenR: topGreenR, greenM: topGreenM,
  red: topMainRed, redOver: topMainRedOver, blue: topMainBlue, starsR: topStarsR, starsM: topStarsM,
  insetRed: topInsetRed, insetBlue: topInsetBlueFringe, insetCore: topInsetCore,
});
drawPanel({
  id: 'bottom', top: 501.7, bottom: 850.7, xMax: 87, yMax: 2290000, insetBottom: 794.3,
  title: [['340'], ['o', 1], [' < l < 350', 0, 1], ['o', 1]],
  hatchR: bottomHatchR, hatchM: bottomHatchM, yellowR: bottomYellowR, yellowM: bottomYellowM, greenR: bottomGreenR, greenM: bottomGreenM,
  red: bottomMainRed, redOver: bottomMainRedOver, blue: bottomMainBlue, starsR: bottomStarsR, starsM: bottomStarsM,
  insetRed: bottomInsetRed, insetBlue: bottomInsetBlueFringe, insetCore: bottomInsetCore,
});
</script>
</body>
</html>
